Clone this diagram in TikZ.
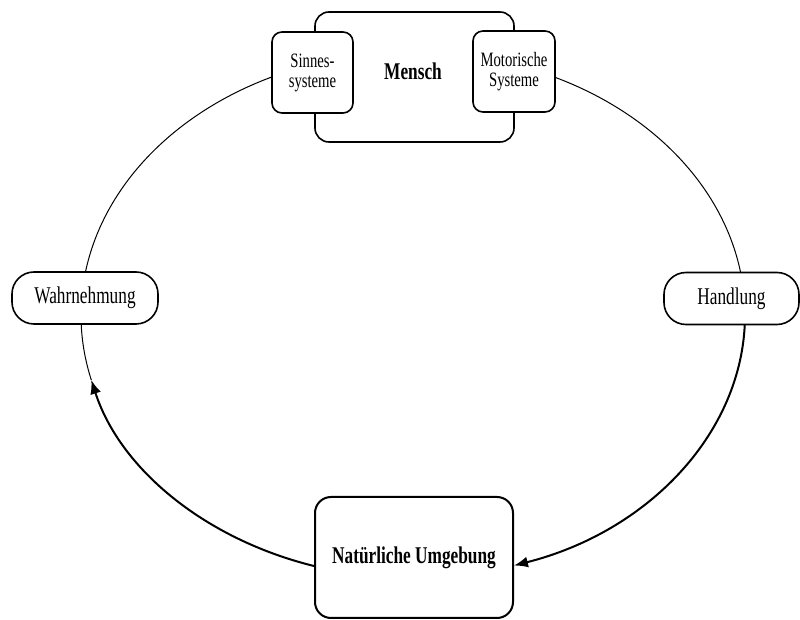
\documentclass[tikz,border=0pt]{standalone}
\usepackage{fontspec}
\setmainfont{Liberation Serif}[FakeStretch=0.72]
\usetikzlibrary{arrows.meta,calc,backgrounds}
\begin{document}
\begin{tikzpicture}[x=0.5pt,y=-0.5pt,
  box/.style={draw, line width=0.8pt, fill=white, inner sep=0pt},
  smallbox/.style={box, rounded corners=5pt, minimum width=40.5pt, minimum height=40.5pt,
    align=center, font=\fontsize{10.2}{10}\selectfont},
  pill/.style={box, rounded corners=11pt, minimum height=26pt, font=\fontsize{12}{14}\selectfont},
  bigtext/.style={font=\fontsize{12}{14}\selectfont\bfseries, inner sep=0pt},
  thinline/.style={line width=0.5pt},
  thickline/.style={line width=1pt},
  tip/.style={-{Latex[length=7pt,width=5.5pt]}}
]
\useasboundingbox (0,0) rectangle (800,620);

% nodes
\node[box, rounded corners=7pt, minimum width=99.5pt, minimum height=65pt] (mensch) at (414.5,77) {};
\node[bigtext] (menschtext) at (413,71) {Mensch};
\node[smallbox] (sinnes) at (312.5,72.5) {Sinnes-\\systeme};
\node[smallbox, minimum width=41pt] (motor) at (514,71.5) {Motorische\\Systeme};
\node[pill, minimum width=73pt] (wahr) at (85,298) {Wahrnehmung};
\node[pill, minimum width=67.5pt] (hand) at (731.5,298.5) {Handlung};
\node[box, line width=1pt, rounded corners=8pt, minimum width=99pt, minimum height=60.5pt, bigtext] (nat) at (414,557.5) {Natürliche Umgebung};

% ellipse points
\coordinate (c) at (413,315);
\coordinate (sW) at ($(c)+(245.1:332 and 263)$);
\coordinate (wS) at ($(c)+(178:332 and 263)$);
\coordinate (nW) at ($(c)+(107.2:332 and 263)$);
\coordinate (mE) at ($(c)+(295.3:332 and 263)$);
\coordinate (hS) at ($(c)+(2.2:332 and 263)$);

\begin{scope}[on background layer]
\draw[thinline] (sW) arc[start angle=245.1, end angle=189.4, x radius=332, y radius=263];
\draw[thinline] (wS) arc[start angle=178, end angle=165.7, x radius=332, y radius=263];
\draw[thinline] (mE) arc[start angle=295.3, end angle=350.6, x radius=332, y radius=263];
\end{scope}
\draw[thickline, tip] (nW) arc[start angle=107.2, end angle=165.7, x radius=332, y radius=263];
\draw[thickline, tip] (hS) arc[start angle=2.2, end angle=72.3, x radius=332, y radius=263];
\end{tikzpicture}
\end{document}
